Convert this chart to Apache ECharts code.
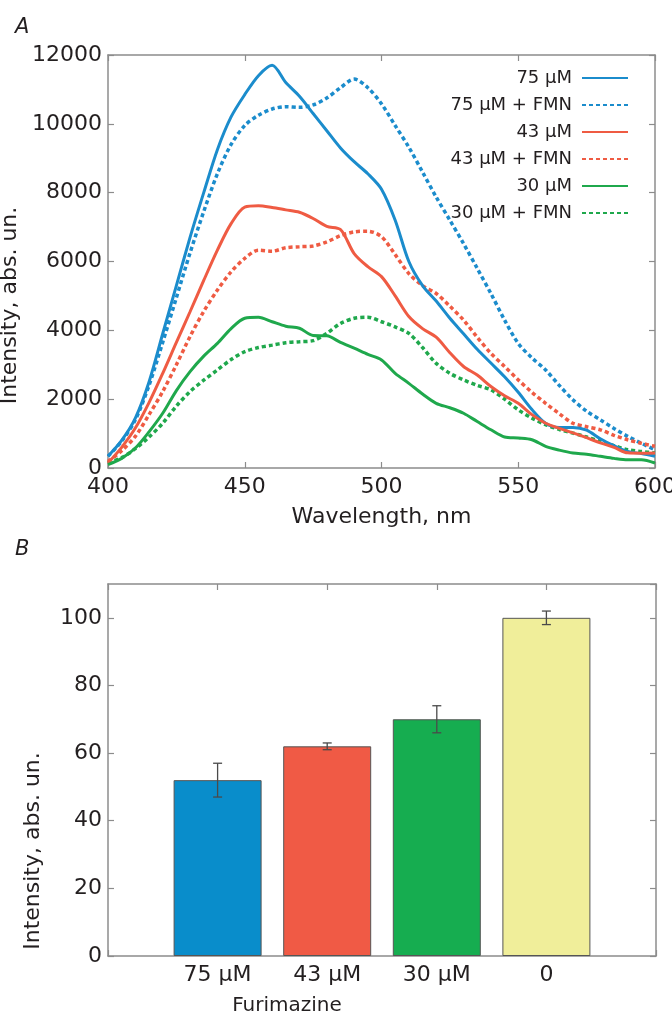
<!DOCTYPE html>
<html><head><meta charset="utf-8">
<script src="https://cdn.jsdelivr.net/npm/echarts@6/dist/echarts.min.js"></script>
<style>html,body{margin:0;padding:0;background:#fff}#c{width:672px;height:1020px}</style>
</head><body><div id="c"></div>
<script>
// ---- Panel A data ----
const wavelengths = [400,405,410,415,420,425,430,435,440,445,450,455,460,465,470,475,480,485,490,495,500,505,510,515,520,525,530,535,540,545,550,555,560,565,570,575,580,585,590,595,600];
const s75 = [340,800,1450,2500,3900,5300,6700,8000,9250,10200,10850,11400,11700,11200,10800,10300,9800,9300,8900,8550,8100,7200,6000,5300,4850,4350,3900,3450,3050,2650,2200,1700,1300,1180,1180,1100,850,650,480,420,340];
const s75F = [340,780,1400,2400,3650,4950,6250,7450,8550,9400,9950,10250,10430,10500,10480,10550,10750,11050,11300,11050,10580,9950,9320,8600,7870,7200,6520,5800,5070,4300,3620,3200,2850,2400,1980,1650,1400,1150,920,720,530];
const s43 = [145,600,1160,1900,2750,3650,4540,5450,6330,7100,7580,7620,7570,7500,7430,7250,7020,6930,6230,5850,5560,5000,4400,4050,3800,3350,2950,2700,2370,2100,1880,1550,1300,1150,1020,880,730,600,440,430,435];
const s43F = [190,500,920,1550,2220,3000,3820,4550,5170,5700,6090,6330,6300,6400,6430,6450,6570,6750,6860,6880,6720,6200,5650,5300,5070,4700,4300,3800,3330,2950,2560,2200,1880,1580,1300,1200,1110,950,820,720,630];
const s30 = [100,280,580,1050,1590,2250,2800,3250,3620,4050,4350,4380,4250,4120,4060,3850,3840,3650,3480,3300,3140,2750,2460,2150,1880,1750,1590,1350,1110,900,870,820,630,520,435,400,340,280,240,240,145];
const s30F = [145,300,560,900,1300,1800,2220,2550,2850,3150,3380,3500,3570,3640,3670,3700,3910,4200,4350,4380,4250,4100,3910,3500,3040,2750,2560,2400,2270,2000,1690,1450,1260,1120,1015,900,770,650,530,480,435];
const seriesNames = ['75 µM','75 µM + FMN','43 µM','43 µM + FMN','30 µM','30 µM + FMN'];
const xTicksA = [400, 600, 50];
const yTicksA = [0, 12000, 2000];

// ---- Panel B data ----
const barCategories = ['75 µM','43 µM','30 µM','0'];
const barValues = [52, 62, 70, 100];
const barErrors = [5, 1, 4, 2];
const yTicksB = [0, 110, 20];

const FONT = 'DejaVu Sans';
const TXT = '#231f20';
const AX = '#8c8c8c';
const C_BLUE = '#1b8ccc', C_RED = '#ef5b43', C_GREEN = '#1fa84c';
const barColors = ['#098dcb', '#f05a45', '#16ad50', '#f0ee9a'];

const lineSets = [
  [s75, C_BLUE, 'solid'], [s75F, C_BLUE, 'dot'],
  [s43, C_RED, 'solid'], [s43F, C_RED, 'dot'],
  [s30, C_GREEN, 'solid'], [s30F, C_GREEN, 'dot']
];

const axisLineStyle = { show: true, onZero: false, lineStyle: { color: AX, width: 1.5 } };
const tickStyle = { show: true, inside: true, length: 6, lineStyle: { color: AX, width: 1.2 } };
const labelStyle = { color: TXT, fontFamily: FONT, fontSize: 22 };
const plain = v => String(v);

const lineSeries = lineSets.map((s, k) => ({
  name: seriesNames[k],
  type: 'line',
  xAxisIndex: 0, yAxisIndex: 0,
  data: wavelengths.map((w, i) => [w, s[0][i]]),
  smooth: 0.3,
  symbol: 'none',
  lineStyle: { color: s[1], width: s[2] === 'dot' ? 3.5 : 3, type: s[2] === 'dot' ? [4, 3] : 'solid', cap: 'butt' },
  itemStyle: { color: s[1] },
  z: k % 2 === 0 ? 3 : 2
}));

const catAxisData = [''].concat(barCategories).concat(['']);
const barData = catAxisData.map((c, i) => (i === 0 || i === catAxisData.length - 1) ? null :
  { value: barValues[i - 1], itemStyle: { color: barColors[i - 1] } });
const errData = barCategories.map((c, i) => [i + 1, barValues[i] - barErrors[i], barValues[i] + barErrors[i]]);

const option = {
  animation: false,
  backgroundColor: '#fff',
  title: [
    { text: 'A', left: 10, top: 12, textStyle: { fontFamily: FONT, fontStyle: 'italic', fontWeight: 'normal', fontSize: 21, color: TXT } },
    { text: 'B', left: 10, top: 534, textStyle: { fontFamily: FONT, fontStyle: 'italic', fontWeight: 'normal', fontSize: 21, color: TXT } }
  ],
  legend: {
    orient: 'vertical',
    right: 38, top: 64,
    align: 'right',
    itemWidth: 46, itemHeight: 14, itemGap: 9,
    itemStyle: { opacity: 0 },
    textStyle: { color: TXT, fontFamily: FONT, fontSize: 18, padding: [0, 5, 0, 0] },
    data: seriesNames
  },
  grid: [
    { left: 108, right: 17, top: 55, bottom: 552, containLabel: false, outerBoundsMode: 'none' },
    { left: 108, right: 16, top: 584, bottom: 64, containLabel: false, outerBoundsMode: 'none' }
  ],
  xAxis: [
    { type: 'value', gridIndex: 0, min: xTicksA[0], max: xTicksA[1], interval: xTicksA[2],
      name: 'Wavelength, nm', nameLocation: 'middle', nameGap: 38,
      nameTextStyle: { color: TXT, fontFamily: FONT, fontSize: 22 },
      axisLine: axisLineStyle, axisTick: tickStyle, splitLine: { show: false },
      axisLabel: Object.assign({ margin: 8, formatter: plain }, labelStyle) },
    { type: 'value', gridIndex: 0, position: 'top', min: xTicksA[0], max: xTicksA[1], interval: xTicksA[2],
      axisLine: axisLineStyle, axisTick: tickStyle, splitLine: { show: false }, axisLabel: { show: false } },
    { type: 'category', gridIndex: 1, data: catAxisData, boundaryGap: false,
      name: 'Furimazine', nameLocation: 'middle', nameGap: 40,
      nameTextStyle: { color: TXT, fontFamily: FONT, fontSize: 20, padding: [0, 190, 0, 0] },
      axisLine: axisLineStyle, axisTick: Object.assign({ interval: 0 }, tickStyle), splitLine: { show: false },
      axisLabel: Object.assign({ margin: 8, interval: 0 }, labelStyle) },
    { type: 'category', gridIndex: 1, position: 'top', data: catAxisData, boundaryGap: false,
      axisLine: axisLineStyle, axisTick: Object.assign({ interval: 0 }, tickStyle), splitLine: { show: false }, axisLabel: { show: false } }
  ],
  yAxis: [
    { type: 'value', gridIndex: 0, min: yTicksA[0], max: yTicksA[1], interval: yTicksA[2],
      name: 'Intensity, abs. un.', nameLocation: 'middle', nameGap: 64,
      nameTextStyle: { color: TXT, fontFamily: FONT, fontSize: 22, padding: [0, 88, 0, 0] },
      axisLine: axisLineStyle, axisTick: tickStyle, splitLine: { show: false },
      axisLabel: Object.assign({ margin: 6, formatter: plain }, labelStyle) },
    { type: 'value', gridIndex: 0, position: 'right', min: yTicksA[0], max: yTicksA[1], interval: yTicksA[2],
      axisLine: axisLineStyle, axisTick: tickStyle, splitLine: { show: false }, axisLabel: { show: false } },
    { type: 'value', gridIndex: 1, min: yTicksB[0], max: yTicksB[1], interval: yTicksB[2],
      name: 'Intensity, abs. un.', nameLocation: 'middle', nameGap: 64,
      nameTextStyle: { color: TXT, fontFamily: FONT, fontSize: 22, padding: [0, 162, 0, 0] },
      axisLine: axisLineStyle, axisTick: tickStyle, splitLine: { show: false },
      axisLabel: Object.assign({ margin: 6, showMaxLabel: false, formatter: plain }, labelStyle) },
    { type: 'value', gridIndex: 1, position: 'right', min: yTicksB[0], max: yTicksB[1], interval: yTicksB[2],
      axisLine: axisLineStyle, axisTick: tickStyle, splitLine: { show: false }, axisLabel: { show: false } }
  ],
  series: lineSeries.concat([
    { type: 'bar', xAxisIndex: 2, yAxisIndex: 2, data: barData, barWidth: 88,
      itemStyle: { borderColor: '#555', borderWidth: 1 }, z: 2 },
    { type: 'custom', xAxisIndex: 2, yAxisIndex: 2, data: errData, z: 5,
      renderItem: function (params, api) {
        const lo = api.coord([api.value(0), api.value(1)]);
        const hi = api.coord([api.value(0), api.value(2)]);
        const w = 4.5;
        const st = { stroke: '#4a4a4a', lineWidth: 1.3 };
        return { type: 'group', children: [
          { type: 'line', shape: { x1: lo[0], y1: lo[1], x2: hi[0], y2: hi[1] }, style: st },
          { type: 'line', shape: { x1: lo[0] - w, y1: lo[1], x2: lo[0] + w, y2: lo[1] }, style: st },
          { type: 'line', shape: { x1: hi[0] - w, y1: hi[1], x2: hi[0] + w, y2: hi[1] }, style: st }
        ] };
      } }
  ])
};
const chart = echarts.init(document.getElementById('c'), null, { renderer: 'canvas' });
chart.setOption(option);
</script>
</body></html>
